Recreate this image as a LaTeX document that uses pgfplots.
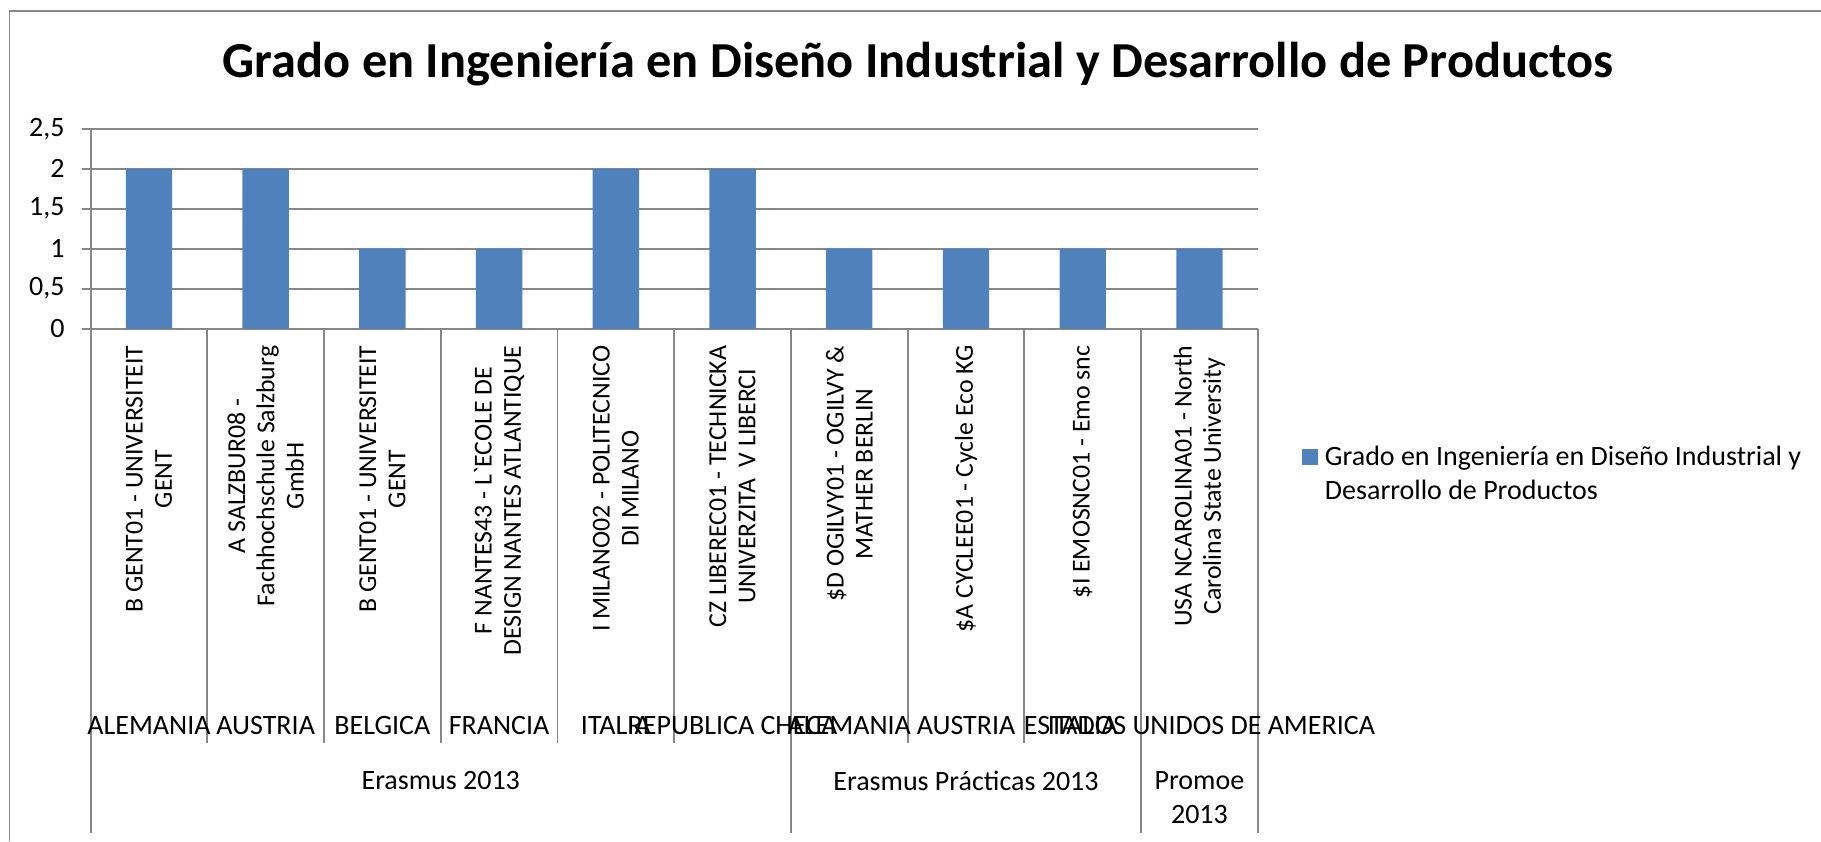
\documentclass[border=0pt]{standalone}
\usepackage{pgfplots}
\pgfplotsset{compat=1.18}
\usepackage{fontspec}
\setmainfont{Carlito}
\definecolor{barblue}{RGB}{79,129,189}
\definecolor{gridgray}{RGB}{134,134,134}
\begin{document}
\begin{tikzpicture}
\useasboundingbox (0pt,0pt) rectangle (910.5pt,-420.5pt);
\draw[gridgray, line width=0.9pt] (4.7pt,-420.5pt) -- (4.7pt,-5.3pt) -- (910.5pt,-5.3pt);
\node[font=\fontsize{25.2}{30}\selectfont\bfseries] at (459pt,-32pt) {Grado en Ingeniería en Diseño Industrial y Desarrollo de Productos};
\begin{axis}[
  at={(45.3pt,-164.3pt)}, anchor=south west,
  scale only axis, width=583.6pt, height=99.9pt,
  xmin=-0.5, xmax=9.5, ymin=0, ymax=2.5,
  clip=false,
  axis lines*=left,
  axis line style={gridgray, line width=0.9pt},
  ymajorgrids,
  major grid style={gridgray, line width=0.9pt},
  ytick={0,0.5,1,1.5,2,2.5},
  tick align=outside,
  major tick length=4.5pt,
  ytick style={gridgray, line width=0.9pt},
  xtick style={draw=none},
  yticklabel style={/pgf/number format/.cd, use comma, fixed, assume math mode=true},
  /pgf/number format/assume math mode=true,
  yticklabel shift=5pt,
  tick label style={font=\fontsize{14}{17}\selectfont, text=black},
  xtick={0,1,2,3,4,5,6,7,8,9},
  xticklabels={
    {B GENT01 - UNIVERSITEIT\\GENT},
    {A SALZBUR08 -\\Fachhochschule Salzburg\\GmbH},
    {B GENT01 - UNIVERSITEIT\\GENT},
    {F NANTES43 - L\textasciigrave ECOLE DE\\DESIGN NANTES ATLANTIQUE},
    {I MILANO02 - POLITECNICO\\DI MILANO},
    {CZ LIBEREC01 - TECHNICKA\\UNIVERZITA\ \ V LIBERCI},
    {\$D OGILVY01 - OGILVY \&\\MATHER BERLIN},
    {\$A CYCLEE01 - Cycle Eco KG},
    {\$I EMOSNC01 - Emo snc},
    {USA NCAROLINA01 - North\\Carolina State University}},
  xticklabel style={rotate=90, anchor=east, align=center, font=\fontsize{12.9}{14.6}\selectfont},
  xticklabel shift=0.5pt,
  legend style={at={(1.0375,-0.5636)}, anchor=north west, draw=none, fill=none,
    inner sep=0pt, outer sep=0pt, column sep=3.7pt,
    font=\fontsize{14}{17}\selectfont,
    cells={anchor=base west}, nodes={inner sep=0pt}},
]
\addplot[ybar, bar width=23.2pt, fill=barblue, draw=none,
  legend image code/.code={\fill[barblue] (0pt,0pt) rectangle (8pt,8pt);}]
  coordinates {(0,2) (1,2) (2,1) (3,1) (4,2) (5,2) (6,1) (7,1) (8,1) (9,1)};
\addlegendentry{\begin{tabular}[t]{@{}l@{}}Grado en Ingeniería en Diseño Industrial y\\Desarrollo de Productos\end{tabular}}
% category separators
\pgfplotsinvokeforeach{0.5,1.5,2.5,3.5,4.5,6.5,7.5}{
  \draw[gridgray, line width=0.9pt] (axis cs:#1,0) -- ++(0pt,-207.4pt);
}
\pgfplotsinvokeforeach{-0.5,5.5,8.5,9.5}{
  \draw[gridgray, line width=0.9pt] (axis cs:#1,0) -- ++(0pt,-252.2pt);
}
% country labels
\begin{scope}[every node/.style={font=\fontsize{14}{17}\selectfont, inner sep=0pt}]
\node at ([yshift=-198.2pt]axis cs:0,0) {ALEMANIA};
\node at ([yshift=-198.2pt]axis cs:1,0) {AUSTRIA};
\node at ([yshift=-198.2pt]axis cs:2,0) {BELGICA};
\node at ([yshift=-198.2pt]axis cs:3,0) {FRANCIA};
\node at ([yshift=-198.2pt]axis cs:4,0) {ITALIA};
\node at ([yshift=-198.2pt]axis cs:5,0) {REPUBLICA CHECA};
\node at ([yshift=-198.2pt]axis cs:6,0) {ALEMANIA};
\node at ([yshift=-198.2pt]axis cs:7,0) {AUSTRIA};
\node at ([yshift=-198.2pt]axis cs:8,0) {ITALIA};
\node at ([yshift=-198.2pt]axis cs:9,0) {ESTADOS UNIDOS DE AMERICA};
% group labels
\node at ([yshift=-226pt]axis cs:2.5,0) {Erasmus 2013};
\node at ([yshift=-226pt]axis cs:7,0) {Erasmus Prácticas 2013};
\node[align=center] at ([yshift=-234.6pt]axis cs:9,0) {Promoe\\2013};
\end{scope}
\end{axis}
\end{tikzpicture}
\end{document}
